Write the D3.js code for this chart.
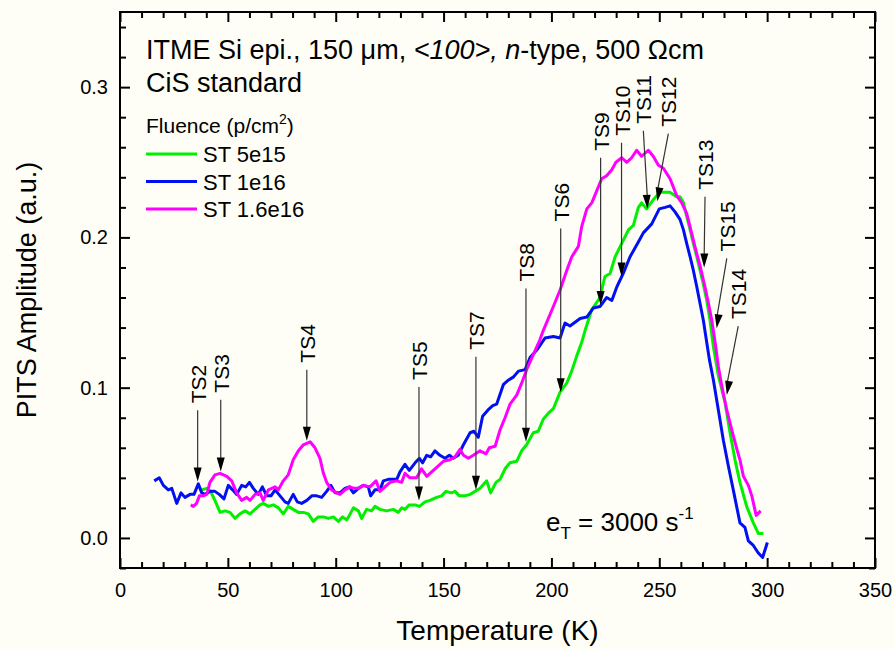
<!DOCTYPE html>
<html>
<head>
<meta charset="utf-8">
<script src="https://cdn.jsdelivr.net/npm/d3@7/dist/d3.min.js"></script>
<style>
  body { margin: 0; background: #fefef6; }
  svg { display: block; font-family: "Liberation Sans", Arial, sans-serif; }
</style>
</head>
<body>
<svg id="chart" width="895" height="649"></svg>
<script>

//============================================================
// Data
//------------------------------------------------------------

var seriesNames = ['ST 5e15', 'ST 1e16', 'ST 1.6e16'];

var tempGreen = [37.9, 40.2, 42.0, 44.0, 46.4, 48.7, 51.0, 53.3, 55.6, 58.0, 60.3, 62.6, 64.9, 66.4, 68.8,
  71.1, 73.4, 75.7, 78.0, 80.3, 82.7, 85.0, 87.3, 89.6, 91.9, 94.3, 96.6, 98.9, 101.2, 103.2, 105.1, 106.7,
  108.2, 110.5, 112.0, 114.3, 116.6, 118.2, 120.5, 123.6, 126.7, 129.0, 130.6, 132.1, 134.1, 136.8, 138.8,
  141.4, 143.7, 146.8, 149.1, 151.1, 153.7, 155.3, 157.3, 159.9, 162.3, 164.6, 166.9, 170.0, 171.8, 174.3,
  176.2, 178.5, 180.8, 183.9, 186.2, 188.5, 191.6, 193.9, 196.2, 198.6, 200.9, 204.0, 207.1, 209.4, 211.7,
  214.0, 215.6, 218.7, 222.5, 224.8, 227.2, 229.5, 232.6, 235.7, 238.0, 240.3, 241.8, 244.1, 247.2, 250.3,
  254.9, 258.0, 259.6, 261.2, 262.7, 264.3, 265.8, 267.4, 268.9, 270.4, 272.0, 273.5, 275.1, 277.4, 280.5,
  282.8, 285.1, 287.4, 290.5, 293.6, 295.9, 298.2];
var ampGreen = [0.032, 0.033, 0.031, 0.025, 0.017, 0.018, 0.017, 0.013, 0.016, 0.018, 0.016, 0.019, 0.022, 0.023, 0.021,
  0.022, 0.020, 0.016, 0.021, 0.019, 0.017, 0.017, 0.016, 0.011, 0.014, 0.014, 0.013, 0.014, 0.011, 0.014, 0.012, 0.016,
  0.020, 0.018, 0.013, 0.019, 0.018, 0.021, 0.019, 0.018, 0.019, 0.017, 0.020, 0.019, 0.022, 0.022, 0.021,
  0.024, 0.025, 0.027, 0.028, 0.031, 0.030, 0.031, 0.028, 0.028, 0.029, 0.031, 0.033, 0.038, 0.030, 0.037,
  0.039, 0.046, 0.050, 0.051, 0.058, 0.062, 0.070, 0.071, 0.079, 0.083, 0.086, 0.097, 0.103, 0.111, 0.121,
  0.130, 0.138, 0.152, 0.160, 0.174, 0.176, 0.187, 0.196, 0.205, 0.208, 0.220, 0.223, 0.219, 0.225, 0.230,
  0.230, 0.227, 0.227, 0.223, 0.214, 0.205, 0.196, 0.187, 0.178, 0.169, 0.158, 0.145, 0.127, 0.108, 0.090,
  0.070, 0.052, 0.037, 0.021, 0.010, 0.003, 0.003];

var tempBlue = [15.9, 18.2, 20.1, 22.4, 24.0, 26.3, 28.3, 30.1, 32.5, 34.3, 36.3, 37.9, 39.4, 41.7, 44.0,
  46.0, 48.2, 50.2, 52.2, 54.1, 56.4, 58.3, 60.0, 61.8, 64.1, 66.0, 68.0, 70.0, 71.9, 74.2, 76.5, 78.0,
  80.3, 82.2, 84.2, 86.6, 88.9, 91.2, 93.5, 95.8, 97.8, 99.7, 102.0, 104.3, 106.3, 108.2, 110.5, 112.8,
  115.1, 116.2, 118.2, 120.5, 122.1, 124.4, 128.3, 129.8, 132.1, 134.1, 136.8, 138.8, 140.3, 142.2, 144.0,
  146.0, 148.3, 150.7, 152.7, 154.5, 156.8, 159.2, 162.3, 164.1, 166.1, 168.1, 170.5, 172.8, 174.6, 177.7,
  180.0, 182.3, 184.7, 187.8, 190.1, 193.2, 197.0, 200.9, 204.0, 206.3, 208.6, 213.3, 216.4, 219.4, 222.5,
  225.6, 228.0, 230.3, 233.3, 236.4, 240.3, 242.6, 246.5, 250.0, 252.7, 255.0, 257.3, 259.6, 261.2, 262.7,
  264.3, 265.8, 267.4, 268.9, 270.4, 272.0, 273.2, 275.1, 277.4, 279.7, 282.0, 284.3, 287.4, 289.7, 291.3,
  293.6, 295.9, 297.9, 300.1];
var ampBlue = [0.038, 0.040, 0.035, 0.032, 0.033, 0.023, 0.030, 0.027, 0.029, 0.029, 0.036, 0.030, 0.029, 0.031, 0.031,
  0.029, 0.026, 0.035, 0.032, 0.029, 0.035, 0.034, 0.037, 0.033, 0.029, 0.034, 0.028, 0.028, 0.032, 0.028, 0.024, 0.023,
  0.029, 0.024, 0.023, 0.025, 0.028, 0.028, 0.027, 0.031, 0.035, 0.030, 0.030, 0.033, 0.034, 0.030, 0.033, 0.035,
  0.034, 0.028, 0.032, 0.032, 0.038, 0.039, 0.039, 0.044, 0.049, 0.045, 0.050, 0.053, 0.050, 0.055, 0.054,
  0.058, 0.055, 0.053, 0.055, 0.053, 0.055, 0.062, 0.070, 0.071, 0.067, 0.081, 0.085, 0.088, 0.089, 0.102,
  0.105, 0.107, 0.111, 0.112, 0.120, 0.125, 0.133, 0.134, 0.133, 0.143, 0.141, 0.146, 0.147, 0.153, 0.154,
  0.160, 0.158, 0.167, 0.176, 0.187, 0.197, 0.203, 0.209, 0.219, 0.220, 0.221, 0.217, 0.212, 0.205, 0.196,
  0.187, 0.178, 0.167, 0.156, 0.145, 0.130, 0.119, 0.105, 0.085, 0.065, 0.048, 0.032, 0.010, 0.007, -0.002,
  -0.005, -0.010, -0.013, -0.003];

var tempMagenta = [32.8, 34.0, 35.5, 36.8, 38.6, 40.2, 41.7, 44.0, 46.4, 49.5, 51.8, 54.1, 56.4, 58.7, 60.3,
  62.6, 64.9, 66.4, 68.8, 71.9, 73.4, 75.7, 78.0, 80.3, 82.7, 85.0, 88.1, 90.4, 92.7, 94.3, 95.8, 98.1,
  100.4, 102.0, 104.3, 106.6, 108.5, 110.5, 112.8, 115.9, 118.7, 120.5, 122.8, 125.2, 128.3, 130.6, 132.1,
  134.4, 137.5, 139.8, 142.2, 144.5, 146.8, 149.9, 153.0, 155.3, 157.6, 159.2, 161.5, 163.8, 166.9, 169.7,
  171.2, 173.9, 176.2, 178.5, 180.8, 183.9, 186.2, 188.5, 191.6, 194.7, 196.2, 200.9, 204.0, 207.1, 209.4,
  212.5, 214.0, 216.4, 218.7, 221.0, 223.3, 225.6, 228.0, 229.9, 232.6, 234.9, 237.2, 239.5, 241.8, 244.9,
  247.2, 249.6, 251.9, 255.0, 258.0, 260.4, 262.7, 264.3, 265.8, 267.4, 268.9, 271.2, 272.8, 274.3, 275.9,
  277.4, 279.0, 281.3, 283.6, 286.0, 287.4, 289.0, 291.3, 292.9, 294.9, 297.0];
var ampMagenta = [0.022, 0.021, 0.023, 0.028, 0.028, 0.029, 0.037, 0.042, 0.043, 0.041, 0.038, 0.030, 0.025, 0.027, 0.025,
  0.029, 0.030, 0.025, 0.032, 0.034, 0.032, 0.038, 0.042, 0.052, 0.058, 0.062, 0.064, 0.060, 0.053, 0.043, 0.037, 0.032,
  0.030, 0.029, 0.032, 0.034, 0.033, 0.033, 0.035, 0.034, 0.038, 0.031, 0.034, 0.037, 0.038, 0.037, 0.043,
  0.040, 0.040, 0.046, 0.041, 0.044, 0.047, 0.051, 0.052, 0.054, 0.059, 0.055, 0.053, 0.055, 0.058, 0.056,
  0.060, 0.061, 0.072, 0.080, 0.089, 0.095, 0.103, 0.112, 0.122, 0.132, 0.138, 0.154, 0.165, 0.178, 0.187,
  0.194, 0.207, 0.219, 0.223, 0.231, 0.239, 0.241, 0.245, 0.250, 0.253, 0.250, 0.253, 0.258, 0.254, 0.258,
  0.254, 0.248, 0.246, 0.239, 0.228, 0.223, 0.216, 0.207, 0.198, 0.189, 0.181, 0.167, 0.156, 0.145, 0.130,
  0.114, 0.101, 0.085, 0.072, 0.059, 0.052, 0.041, 0.035, 0.028, 0.015, 0.018];

// trap level annotations: arrow tail and tip in (T, amplitude)
var annLabels = ['TS2', 'TS3', 'TS4', 'TS5', 'TS7', 'TS8', 'TS6', 'TS9', 'TS10', 'TS11', 'TS12', 'TS13', 'TS15', 'TS14'];
var annTailT  = [36.0, 46.7, 86.6, 138.6, 165.0, 188.2, 204.3, 222.8, 232.5, 242.6, 254.2, 271.2, 281.3, 286.6];
var annTailA  = [0.085, 0.092, 0.112, 0.1005, 0.1205, 0.166, 0.206, 0.253, 0.263, 0.271, 0.269, 0.227, 0.186, 0.141];
var annTipT   = [36.0, 46.7, 86.6, 138.6, 165.0, 188.2, 204.3, 222.8, 232.5, 244.5, 249.1, 270.8, 276.6, 281.3];
var annTipA   = [0.0376, 0.0443, 0.0646, 0.025, 0.032, 0.064, 0.097, 0.155, 0.174, 0.219, 0.224, 0.180, 0.1395, 0.0952];

var xMajor = [0, 50, 100, 150, 200, 250, 300, 350];
var yMajor = [0.0, 0.1, 0.2, 0.3];
var yTickLabels = ['0.0', '0.1', '0.2', '0.3'];

//============================================================
// Layout
//------------------------------------------------------------

var margin = {top: 12, right: 20, bottom: 81, left: 120}
  , width = 895
  , height = 649
  , innerW = width - margin.left - margin.right
  , innerH = height - margin.top - margin.bottom
  , colors = ['#00f000', '#0010f0', '#ff00ff']
  ;

var svg = d3.select('#chart');
svg.append('rect').attr('width', width).attr('height', height).attr('fill', '#fefef6');

var x = d3.scaleLinear().domain([0, 350]).range([0, innerW]);
var y = d3.scaleLinear().domain([-0.02, 0.35]).range([innerH, 0]);

var g = svg.append('g').attr('transform', 'translate(' + margin.left + ',' + margin.top + ')');

//------------------------------------------------------------
// Axes: ticks point inward, mirrored on top / right

var xMinor = d3.range(0, 351, 10).filter(function(d) { return d % 50 !== 0; });
var yMinor = d3.range(-2, 35, 2).map(function(d) { return d / 100; })
    .filter(function(d) { return Math.abs(Math.round(d * 100) % 10) !== 0; });

function styleAxis(sel) {
  sel.select('.domain').remove();
  sel.selectAll('line').attr('stroke', '#000').attr('stroke-width', 2);
  sel.selectAll('text').attr('fill', '#000').style('font-size', '20px')
      .style('font-family', '"Liberation Sans", Arial, sans-serif');
}

g.append('g').attr('transform', 'translate(0,' + innerH + ')')
    .call(d3.axisBottom(x).tickValues(xMajor).tickSize(-10).tickPadding(15).tickFormat(d3.format('d')))
    .call(styleAxis);
g.append('g').attr('transform', 'translate(0,' + innerH + ')')
    .call(d3.axisBottom(x).tickValues(xMinor).tickSize(-6).tickFormat(''))
    .call(styleAxis);
g.append('g')
    .call(d3.axisTop(x).tickValues(xMajor).tickSize(-10).tickFormat(''))
    .call(styleAxis);
g.append('g')
    .call(d3.axisTop(x).tickValues(xMinor).tickSize(-6).tickFormat(''))
    .call(styleAxis);

g.append('g')
    .call(d3.axisLeft(y).tickValues(yMajor).tickSize(-10).tickPadding(12)
      .tickFormat(function(d, i) { return yTickLabels[i]; }))
    .call(styleAxis);
g.append('g')
    .call(d3.axisLeft(y).tickValues(yMinor).tickSize(-6).tickFormat(''))
    .call(styleAxis);
g.append('g').attr('transform', 'translate(' + innerW + ',0)')
    .call(d3.axisRight(y).tickValues(yMajor).tickSize(-10).tickFormat(''))
    .call(styleAxis);
g.append('g').attr('transform', 'translate(' + innerW + ',0)')
    .call(d3.axisRight(y).tickValues(yMinor).tickSize(-6).tickFormat(''))
    .call(styleAxis);

g.append('rect')
    .attr('width', innerW).attr('height', innerH)
    .attr('fill', 'none').attr('stroke', '#000').attr('stroke-width', 2);

//------------------------------------------------------------
// Curves

var series = [
  {name: seriesNames[0], t: tempGreen, a: ampGreen},
  {name: seriesNames[1], t: tempBlue, a: ampBlue},
  {name: seriesNames[2], t: tempMagenta, a: ampMagenta}
];

var line = d3.line()
    .x(function(d) { return x(d[0]); })
    .y(function(d) { return y(d[1]); });

g.selectAll('path.curve')
    .data(series)
  .enter().append('path')
    .attr('class', 'curve')
    .attr('fill', 'none')
    .attr('stroke', function(d, i) { return colors[i]; })
    .attr('stroke-width', 3)
    .attr('stroke-linejoin', 'round')
    .attr('d', function(d) { return line(d.t.map(function(t, i) { return [t, d.a[i]]; })); });

//------------------------------------------------------------
// Trap annotations

var ann = annLabels.map(function(l, i) {
  return {label: l, x1: x(annTailT[i]), y1: y(annTailA[i]), x2: x(annTipT[i]), y2: y(annTipA[i])};
});

var annG = g.selectAll('g.ann').data(ann).enter().append('g').attr('class', 'ann');

annG.append('line')
    .attr('x1', function(d) { return d.x1; })
    .attr('y1', function(d) { return d.y1; })
    .attr('x2', function(d) { return d.x2; })
    .attr('y2', function(d) { return d.y2 - 10; })
    .attr('stroke', '#333').attr('stroke-width', 1.2);

annG.append('path')
    .attr('fill', '#000')
    .attr('d', function(d) {
      var ang = Math.atan2(d.y2 - d.y1, d.x2 - d.x1),
          len = 14, hw = 4,
          bx = d.x2 - len * Math.cos(ang), by = d.y2 - len * Math.sin(ang),
          px = -Math.sin(ang) * hw, py = Math.cos(ang) * hw;
      return 'M' + d.x2 + ',' + d.y2 + 'L' + (bx + px) + ',' + (by + py) + 'L' + (bx - px) + ',' + (by - py) + 'Z';
    });

annG.append('text')
    .attr('transform', function(d) { return 'translate(' + (d.x1 + 8) + ',' + (d.y1 - 7) + ') rotate(-90)'; })
    .style('font-size', '21px')
    .text(function(d) { return d.label; });

//------------------------------------------------------------
// Header text and legend

var hdr = svg.append('text').attr('x', 146).attr('y', 59).style('font-size', '27px');
hdr.append('tspan').text('ITME Si epi., 150 \u03bcm, ');
hdr.append('tspan').style('font-style', 'italic').text('<100>,');
hdr.append('tspan').text(' ');
hdr.append('tspan').style('font-style', 'italic').text('n');
hdr.append('tspan').text('-type, 500 \u03a9cm');

svg.append('text').attr('x', 146).attr('y', 92).style('font-size', '27px').text('CiS standard');

var flu = svg.append('text').attr('x', 146).attr('y', 133).style('font-size', '21px');
flu.append('tspan').text('Fluence (p/cm');
flu.append('tspan').attr('dy', -9).style('font-size', '14px').text('2');
flu.append('tspan').attr('dy', 9).text(')');

var leg = svg.selectAll('g.legend').data(series).enter().append('g')
    .attr('class', 'legend')
    .attr('transform', function(d, i) { return 'translate(146,' + (154 + i * 27.5) + ')'; });
leg.append('line').attr('x1', 0).attr('x2', 51)
    .attr('stroke', function(d, i) { return colors[i]; }).attr('stroke-width', 3);
leg.append('text').attr('x', 57).attr('y', 8).style('font-size', '22px')
    .text(function(d) { return d.name; });

var et = svg.append('text').attr('x', 546).attr('y', 531).style('font-size', '26px');
et.append('tspan').text('e');
et.append('tspan').attr('dy', 8).style('font-size', '17px').text('T');
et.append('tspan').attr('dy', -8).text(' = 3000 s');
et.append('tspan').attr('dy', -12).style('font-size', '17px').text('-1');

//------------------------------------------------------------
// Axis titles

svg.append('text')
    .attr('x', margin.left + innerW / 2).attr('y', 640)
    .attr('text-anchor', 'middle').style('font-size', '28px')
    .text('Temperature (K)');

svg.append('text')
    .attr('transform', 'translate(36,' + (margin.top + innerH / 2) + ') rotate(-90)')
    .attr('text-anchor', 'middle').style('font-size', '27px')
    .text('PITS Amplitude (a.u.)');

</script>
</body>
</html>
